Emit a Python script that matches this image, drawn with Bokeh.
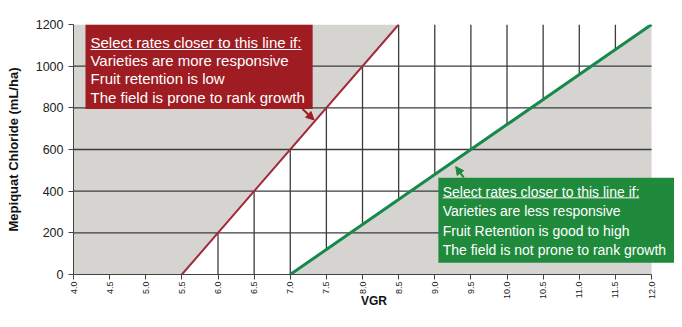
import math
from bokeh.plotting import figure
from bokeh.models import Range1d, FixedTicker, NumeralTickFormatter, Arrow, NormalHead
from bokeh.core.properties import value
from bokeh.embed import file_html
from bokeh.resources import INLINE

# ---------------- data ----------------
x_ticks = [4.0, 4.5, 5.0, 5.5, 6.0, 6.5, 7.0, 7.5, 8.0, 8.5, 9.0, 9.5, 10.0, 10.5, 11.0, 11.5, 12.0]
y_ticks = [0, 200, 400, 600, 800, 1000, 1200]

# upper-rate line (red) and lower-rate line (green): VGR -> mL/ha
red_x = [5.5, 8.5]
red_y = [0, 1200]
green_x = [7.0, 12.0]
green_y = [0, 1200]

# horizontal grid levels
grid_y = [200, 400, 600, 800, 1000]

# vertical grid segments inside the white band between the two lines
vgrid_x = [6.0, 6.5, 7.0, 7.5, 8.0, 8.5, 9.0, 9.5, 10.0, 10.5, 11.0, 11.5]
vgrid_bottom = [0, 0, 0, 120, 240, 360, 480, 600, 720, 840, 960, 1080]
vgrid_top = [200, 400, 600, 800, 1000, 1200, 1200, 1200, 1200, 1200, 1200, 1200]

red_text = ["Select rates closer to this line if:",
            "Varieties are more responsive",
            "Fruit retention is low",
            "The field is prone to rank growth"]
green_text = ["Select rates closer to this line if:",
              "Varieties are less responsive",
              "Fruit Retention is good to high",
              "The field is not prone to rank growth"]

# ---------------- styling ----------------
GRAY = "#d6d4d1"
GRID = "#3c3c3c"
RED_LINE = "#a3283a"
RED_BOX = "#9e1c22"
GREEN_LINE = "#17894a"
GREEN_BOX = "#1f8a3c"
FONT = "Liberation Sans"

x_min, x_max = x_ticks[0], x_ticks[-1]
y_min, y_max = y_ticks[0], y_ticks[-1]
X_END = 12.318

p = figure(width=674, height=311,
           x_range=Range1d(4.0, X_END), y_range=Range1d(0, 1200),
           output_backend="svg", toolbar_location=None,
           min_border_left=73, min_border_right=0,
           min_border_top=24, min_border_bottom=36)
p.outline_line_color = None
p.xgrid.visible = False
p.ygrid.visible = False
p.background_fill_color = "white"
p.border_fill_color = "white"

# gray regions outside the recommended band
p.patch([x_min, red_x[0], red_x[1], x_min], [y_min, red_y[0], red_y[1], y_max],
        fill_color=GRAY, line_color=None)
p.patch([green_x[0], x_max, green_x[1]], [y_min, green_y[0], green_y[1]],
        fill_color=GRAY, line_color=None)

# grid
p.segment(x0=[x_min] * len(grid_y), y0=grid_y, x1=[x_max] * len(grid_y), y1=grid_y,
          line_color=GRID, line_width=1.3)
p.segment(x0=vgrid_x, y0=vgrid_bottom, x1=vgrid_x, y1=vgrid_top,
          line_color=GRID, line_width=1.3)

# the two lines
p.line(red_x, red_y, line_color=RED_LINE, line_width=2)
p.line(green_x, green_y, line_color=GREEN_LINE, line_width=3)

# red note box
p.quad(left=[4.166], right=[7.31], bottom=[795], top=[1200], fill_color=RED_BOX, line_color=None)
p.text(x=[4.235] * 4, y=[1113, 1027, 940, 852], text=red_text,
       text_color="white", text_font=value(FONT), text_font_size="15px",
       text_baseline="middle", text_align="left")
p.segment(x0=[4.235], y0=[1080], x1=[7.16], y1=[1080], line_color="white", line_width=1)
p.add_layout(Arrow(end=NormalHead(size=8, fill_color=RED_BOX, line_color=RED_BOX),
                   x_start=7.17, y_start=794, x_end=7.33, y_end=742,
                   line_color=RED_BOX, line_width=2))

# green note box
p.quad(left=[9.05], right=[X_END], bottom=[57], top=[464], fill_color=GREEN_BOX, line_color=None)
p.text(x=[9.11] * 4, y=[398, 303, 208, 120], text=green_text,
       text_color="white", text_font=value(FONT), text_font_size="14px",
       text_baseline="middle", text_align="left")
p.segment(x0=[9.11], y0=[368], x1=[11.83], y1=[368], line_color="white", line_width=1)
p.add_layout(Arrow(end=NormalHead(size=8, fill_color=GREEN_BOX, line_color=GREEN_BOX),
                   x_start=9.40, y_start=466, x_end=9.29, y_end=518,
                   line_color=GREEN_BOX, line_width=2))

# axes
xa = p.xaxis[0]
xa.ticker = FixedTicker(ticks=x_ticks)
xa.formatter = NumeralTickFormatter(format="0.0")
xa.bounds = (x_min, x_max)
xa.major_label_orientation = math.pi / 2
xa.major_label_text_font = FONT
xa.major_label_text_font_size = "9px"
xa.major_label_text_color = "#222222"
xa.major_tick_in = 0
xa.major_tick_out = 5
xa.minor_tick_line_color = None
xa.axis_line_color = "#444444"
xa.major_tick_line_color = "#444444"
xa.major_label_standoff = 2
xa.axis_label = "VGR"
xa.axis_label_text_font = FONT
xa.axis_label_text_font_style = "bold"
xa.axis_label_text_font_size = "12px"
xa.axis_label_text_color = "#111111"
xa.axis_label_standoff = -8

ya = p.yaxis[0]
ya.ticker = FixedTicker(ticks=y_ticks)
ya.bounds = (y_min, y_max)
ya.major_label_text_font = FONT
ya.major_label_text_font_size = "12.5px"
ya.major_label_text_color = "#222222"
ya.major_tick_in = 0
ya.major_tick_out = 5
ya.minor_tick_line_color = None
ya.axis_line_color = "#444444"
ya.major_tick_line_color = "#444444"
ya.major_label_standoff = 5
ya.axis_label = "Mepiquat Chloride (mL/ha)"
ya.axis_label_text_font = FONT
ya.axis_label_text_font_style = "bold"
ya.axis_label_text_font_size = "13px"
ya.axis_label_text_color = "#111111"
ya.axis_label_standoff = 12

open("out.html", "w").write(file_html(p, INLINE))
